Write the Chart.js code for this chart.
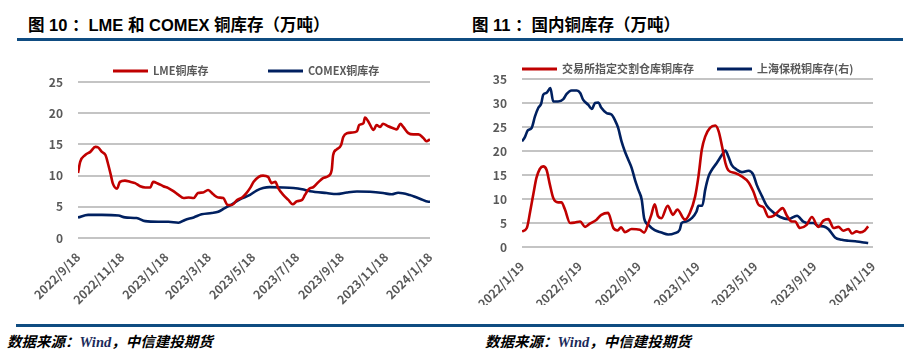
<!DOCTYPE html>
<html lang="zh-CN">
<head>
<meta charset="UTF-8">
<title>铜库存</title>
<script src="https://cdn.jsdelivr.net/npm/chart.js"></script>
<style>
  body { margin: 0; width: 921px; height: 360px; position: relative; background: #fff; overflow: hidden;
         font-family: "Liberation Sans", "Noto Sans CJK SC", sans-serif; }
  .title { position: absolute; top: 15px; font-size: 16.5px; font-weight: bold; color: #000; white-space: nowrap; line-height: 20px; }
  .rule { position: absolute; height: 3px; background: #0f4c81; }
  .source { position: absolute; top: 331px; font-size: 14.5px; font-weight: bold; font-style: italic; white-space: nowrap;
            font-family: "Noto Sans CJK SC", sans-serif; line-height: 20px; color: #000; }
  .source i { font-family: "Liberation Serif", serif; color: #1b2a5a; }
  canvas { position: absolute; top: 45px; }
</style>
</head>
<body>
  <div class="title" style="left:28px">图 10 ：LME 和 COMEX 铜库存（万吨）</div>
  <div class="title" style="left:472px">图 11 ：国内铜库存（万吨）</div>
  <div class="rule" style="left:17px; width:443px; top:38px"></div>
  <div class="rule" style="left:460px; width:443px; top:38px"></div>

  <canvas id="leftChart" width="460" height="260" style="left:0"></canvas>
  <canvas id="rightChart" width="460" height="260" style="left:460px"></canvas>

  <div class="rule" style="left:16px; width:444px; top:324px"></div>
  <div class="rule" style="left:460px; width:444px; top:324px"></div>
  <div class="source" style="left:7px">数据来源：<i>Wind</i>，中信建投期货</div>
  <div class="source" style="left:485px">数据来源：<i>Wind</i>，中信建投期货</div>

<script>
  // 图10: x = days since 2022/9/18
  const lmeDays = [0, 3, 10, 17, 24, 28, 33, 38, 42, 46, 48, 54, 58, 65, 72, 79, 86, 93, 100, 104, 111, 118, 125, 132, 139,
    146, 153, 160, 166, 173, 180, 187, 194, 201, 207, 213, 220, 227, 233, 238, 243, 250, 256, 263, 268, 273, 277, 284, 291,
    297, 303, 310, 314, 319, 326, 333, 339, 346, 351, 353, 358, 364, 367, 372, 379, 386, 389, 395, 397, 402, 409, 413, 418,
    422, 429, 436, 441, 446, 450, 457, 464, 471, 478, 482, 487];
  const lmeStock = [10.4, 12.2, 13.3, 13.8, 14.6, 14.5, 13.8, 13.3, 11.7, 9.8, 8.8, 7.9, 9.0, 9.2, 9.0, 8.8, 8.3, 8.1, 8.1, 9.0,
    8.7, 8.3, 8.0, 7.5, 6.9, 6.4, 6.5, 6.4, 7.2, 7.3, 7.7, 7.0, 6.5, 6.4, 5.3, 5.3, 6.1, 6.5, 7.2, 8.0, 9.0, 9.8, 10.0, 9.8,
    8.8, 9.0, 8.0, 6.9, 6.1, 5.4, 5.9, 6.1, 6.9, 7.8, 8.2, 9.0, 9.6, 9.9, 10.9, 13.3, 14.2, 14.9, 16.2, 16.8, 16.9, 17.1,
    18.1, 18.4, 19.3, 18.6, 17.3, 18.1, 17.8, 18.3, 17.9, 17.6, 17.4, 18.3, 17.8, 16.8, 16.6, 16.6, 16.0, 15.5, 15.8];
  const comexDays = [0, 14, 33, 56, 65, 81, 93, 111, 125, 139, 148, 160, 171, 185, 194, 203, 213, 224, 238, 247, 256, 265,
    284, 298, 310, 321, 344, 358, 372, 386, 404, 422, 434, 443, 459, 464, 473, 485, 487];
  const comexStock = [3.3, 3.7, 3.7, 3.6, 3.3, 3.2, 2.7, 2.6, 2.6, 2.45, 2.9, 3.3, 3.8, 4.0, 4.2, 4.8, 5.4, 6.2, 6.9, 7.6,
    8.0, 8.15, 8.1, 8.0, 7.8, 7.5, 7.2, 7.05, 7.3, 7.45, 7.4, 7.2, 7.0, 7.25, 6.9, 6.7, 6.3, 5.8, 5.8];
  const leftTickLabels = ['2022/9/18', '2022/11/18', '2023/1/18', '2023/3/18', '2023/5/18', '2023/7/18', '2023/9/18',
    '2023/11/18', '2024/1/18'];

  // 图11: x = days since 2022/1/19
  const shfeDays = [0, 10, 17, 24, 30, 37, 44, 51, 58, 65, 75, 82, 89, 100, 110, 121, 131, 141, 155, 165, 179, 190, 199,
    206, 214, 228, 245, 254, 263, 269, 276, 283, 290, 303, 314, 323, 339, 349, 360, 367, 374, 381, 391, 402, 409, 416,
    423, 429, 443, 457, 471, 481, 492, 502, 513, 523, 533, 542, 551, 561, 568, 578, 592, 603, 616, 627, 637, 648, 658,
    668, 679, 686, 696, 703, 713, 720];
  const shfeStock = [3.25, 3.95, 7.4, 11.25, 14.4, 16.25, 16.8, 16.1, 13.0, 10.2, 9.3, 9.3, 7.9, 5.0, 5.1, 5.3, 4.2, 4.85,
    5.7, 6.7, 7.1, 3.95, 3.45, 4.1, 3.1, 3.75, 3.6, 3.0, 5.0, 6.7, 8.9, 6.4, 6.0, 8.6, 6.7, 7.8, 5.7, 7.1, 10.5, 14.7,
    20.3, 23.0, 24.8, 25.3, 24.1, 21.0, 17.5, 16.0, 15.4, 14.7, 13.5, 11.6, 8.8, 8.3, 6.25, 6.5, 7.4, 8.1, 6.5, 5.3, 5.3,
    3.95, 4.6, 6.25, 4.2, 5.5, 5.8, 3.95, 4.2, 3.4, 3.75, 2.8, 3.25, 3.05, 3.45, 4.3];
  const bondedDays = [0, 6, 12, 20, 27, 34, 40, 44, 51, 59, 65, 75, 86, 93, 103, 114, 121, 127, 138, 145, 152, 159, 165,
    176, 186, 193, 200, 207, 214, 221, 228, 235, 242, 249, 254, 263, 276, 290, 304, 318, 328, 332, 342, 353, 363, 367,
    375, 381, 388, 395, 405, 416, 423, 429, 436, 447, 457, 471, 481, 488, 499, 509, 523, 537, 554, 572, 585, 596, 606,
    616, 627, 637, 651, 665, 679, 693, 707, 720];
  const bondedStock = [22.0, 22.9, 24.3, 24.8, 27.2, 29.0, 29.9, 31.7, 32.1, 33.1, 30.3, 30.3, 30.8, 31.9, 32.6, 32.6, 32.1,
    30.7, 29.6, 28.75, 30.0, 30.1, 29.0, 27.9, 27.6, 26.5, 24.8, 22.0, 19.9, 18.2, 16.5, 14.0, 11.9, 9.85, 6.0, 4.6, 3.5,
    3.0, 2.6, 2.9, 3.6, 5.0, 5.3, 6.0, 7.4, 8.6, 8.6, 11.9, 14.7, 16.1, 17.5, 19.2, 20.1, 18.9, 17.1, 16.1, 15.6, 15.9,
    15.1, 13.0, 10.6, 8.6, 7.2, 6.25, 5.8, 6.5, 5.3, 5.0, 5.0, 4.4, 4.3, 3.75, 2.0, 1.5, 1.3, 1.2, 1.0, 0.85];
  const rightTickLabels = ['2022/1/19', '2022/5/19', '2022/9/19', '2023/1/19', '2023/5/19', '2023/9/19', '2024/1/19'];

  const RED = '#c00000';
  const BLUE = '#002060';
  const GREY = '#595959';
  const GRID = '#c4c4c4';
  const FONT = '"Noto Sans CJK SC", "Liberation Sans", sans-serif';

  Chart.defaults.font.family = FONT;
  Chart.defaults.color = GREY;

  function dayOf(label, startLabel) {
    const [y, m, d] = label.split('/').map(Number);
    const [y0, m0, d0] = startLabel.split('/').map(Number);
    return Math.round((Date.UTC(y, m - 1, d) - Date.UTC(y0, m0 - 1, d0)) / 864e5);
  }

  function toPoints(days, values) {
    return days.map((d, i) => ({ x: d, y: values[i] }));
  }

  function lineSet(label, days, values, color, axis) {
    return {
      label: label,
      data: toPoints(days, values),
      borderColor: color,
      backgroundColor: color,
      borderWidth: 2.6,
      pointRadius: 0,
      tension: 0.3,
      cubicInterpolationMode: 'monotone',
      yAxisID: axis || 'y'
    };
  }

  // legend: short thick line + label, placed above the plot like the reference
  const lineLegend = {
    id: 'lineLegend',
    afterDraw(chart, args, opts) {
      const { ctx, chartArea } = chart;
      const y = chartArea.top - opts.above;
      ctx.save();
      ctx.font = 'bold 11px ' + FONT;
      ctx.textBaseline = 'middle';
      ctx.textAlign = 'left';
      chart.data.datasets.forEach((ds, i) => {
        const x = chartArea.left + opts.starts[i];
        ctx.strokeStyle = ds.borderColor;
        ctx.lineWidth = 3;
        ctx.beginPath();
        ctx.moveTo(x, y);
        ctx.lineTo(x + 35, y);
        ctx.stroke();
        ctx.fillStyle = GREY;
        ctx.fillText(ds.label, x + 40, y);
      });
      ctx.restore();
    }
  };

  function makeChart(id, datasets, tickLabels, opt) {
    const tickDays = tickLabels.map(l => dayOf(l, tickLabels[0]));
    const scales = {
      x: {
        type: 'linear',
        min: 0,
        max: tickDays[tickDays.length - 1],
        grid: { display: false },
        border: { display: false },
        afterBuildTicks: s => { s.ticks = tickDays.map(v => ({ value: v })); },
        afterFit: s => { s.height = opt.xHeight; },
        ticks: {
          autoSkip: false,
          minRotation: 45,
          maxRotation: 45,
          padding: 4,
          color: GREY,
          font: { size: 12, weight: 'bold' },
          callback: (v, i) => tickLabels[i]
        }
      },
      y: {
        min: 0,
        max: opt.yMax,
        afterFit: s => { s.width = opt.yWidth; },
        grid: { color: GRID, lineWidth: 2, drawTicks: false },
        border: { display: false },
        ticks: { stepSize: 5, padding: 15, color: GREY, font: { size: 12, weight: 'bold' } }
      }
    };
    if (opt.y2) {
      scales.y2 = { display: false, min: 0, max: opt.yMax, position: 'right' };
    }
    return new Chart(document.getElementById(id), {
      type: 'line',
      data: { datasets: datasets },
      options: {
        responsive: false,
        devicePixelRatio: 1,
        animation: false,
        layout: { padding: opt.padding },
        scales: scales,
        plugins: {
          tooltip: { enabled: false },
          legend: { display: false },
          lineLegend: { starts: opt.legendStarts, above: opt.legendAbove }
        }
      },
      plugins: [lineLegend]
    });
  }

  makeChart('leftChart', [
    lineSet('LME铜库存', lmeDays, lmeStock, RED),
    lineSet('COMEX铜库存', comexDays, comexStock, BLUE)
  ], leftTickLabels, {
    yMax: 25, yWidth: 48, xHeight: 67,
    padding: { left: 30, right: 30, top: 37, bottom: 0 },
    legendStarts: [35, 190], legendAbove: 11
  });

  makeChart('rightChart', [
    lineSet('交易所指定交割仓库铜库存', shfeDays, shfeStock, RED),
    lineSet('上海保税铜库存(右)', bondedDays, bondedStock, BLUE, 'y2')
  ], rightTickLabels, {
    yMax: 35, yWidth: 42, xHeight: 58, y2: true,
    padding: { left: 20, right: 47, top: 34, bottom: 0 },
    legendStarts: [0, 195], legendAbove: 10
  });
</script>
</body>
</html>
